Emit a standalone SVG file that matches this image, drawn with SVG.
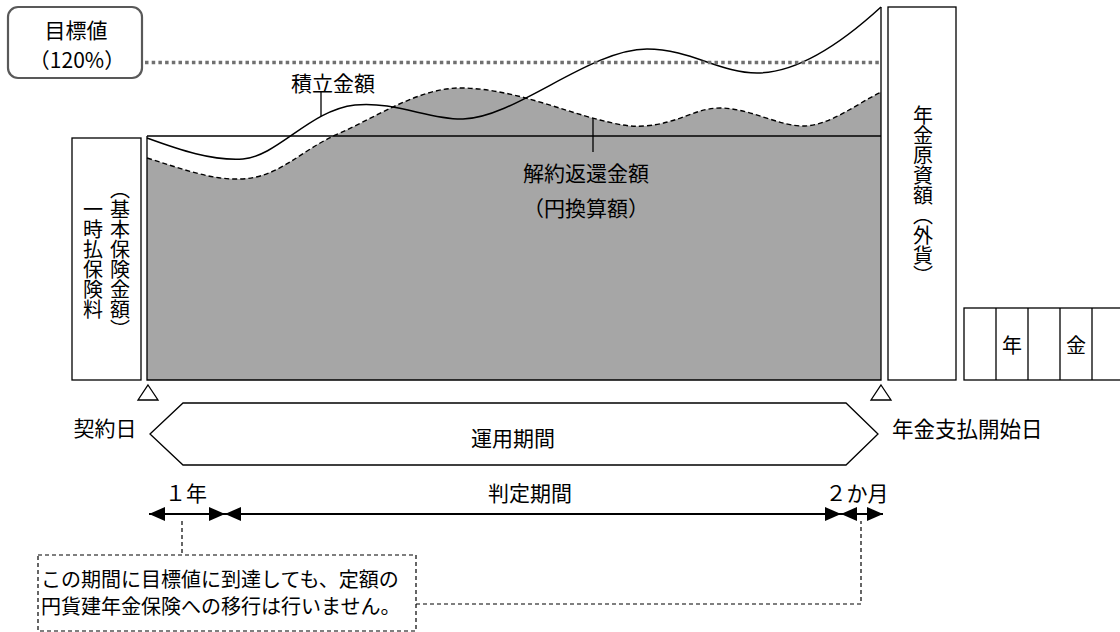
<svg xmlns="http://www.w3.org/2000/svg" width="1120" height="632" viewBox="0 0 1120 632">
<style>
.t{font-family:"Noto Sans CJK JP","Noto Sans",sans-serif;font-size:21px;fill:#000}
.s20{font-size:20px}
.c{text-anchor:middle;dominant-baseline:central}
.m{dominant-baseline:central}
.v{writing-mode:vertical-rl;text-orientation:mixed;text-anchor:middle}
.box{fill:#fff;stroke:#000;stroke-width:1.3}
.ln{fill:none;stroke:#000;stroke-width:1.3}
.dash{fill:none;stroke:#000;stroke-width:1.2;stroke-dasharray:4 3}
.arr{fill:none;stroke:#000;stroke-width:2;marker-start:url(#ah);marker-end:url(#ah)}
</style>
<defs>
<marker id="ah" viewBox="0 0 16 14" refX="16" refY="7" markerWidth="16" markerHeight="14" orient="auto-start-reverse" markerUnits="userSpaceOnUse">
<path d="M0,0 L16,7 L0,14 Z" fill="#000"/>
</marker>
</defs>
<rect width="1120" height="632" fill="#fff"/>

<g id="chart">
<path d="M147,158 C180,168 210,180 240,179 C280,178 300,150 340,133 C380,115 420,88 460,88 C510,88 560,110 600,120 C620,125 630,127 645,126 C680,123 695,108 720,108 C750,108 780,127 805,126 C830,125 855,105 881,92 L881,380 L147,380 Z" fill="#a6a6a6"/>
<line x1="147" y1="136" x2="881" y2="136" class="ln"/>
<path d="M147,158 C180,168 210,180 240,179 C280,178 300,150 340,133 C380,115 420,88 460,88 C510,88 560,110 600,120 C620,125 630,127 645,126 C680,123 695,108 720,108 C750,108 780,127 805,126 C830,125 855,105 881,92" fill="none" stroke="#000" stroke-width="1.4" stroke-dasharray="5 3"/>
<path d="M147,138 C180,150 212,161 243,159 C278,156 310,110 355,105 C395,101 430,120 463,119 C515,118 590,49 647,49 C690,49 720,73 757,73 C800,73 845,40 881,7" fill="none" stroke="#000" stroke-width="1.5"/>
<polyline points="147,136 147,380 881,380 881,7" class="ln" stroke-width="1.5"/>
<line x1="145" y1="62.5" x2="881" y2="62.5" stroke="#707070" stroke-width="3.5" stroke-dasharray="3.5 3.2"/>
</g>

<g id="target-box">
<rect x="8" y="7" width="134" height="71" rx="10" fill="#fff" stroke="#595959" stroke-width="2.2"/>
<text x="76" y="29" class="t c">目標値</text>
<text x="77" y="59" class="t c">（120%）</text>
</g>

<g id="label-accumulated">
<line x1="321" y1="92" x2="321" y2="116" class="ln"/>
<text x="333" y="82" class="t c">積立金額</text>
</g>

<g id="label-surrender">
<line x1="593" y1="118" x2="593" y2="152" class="ln"/>
<text x="586" y="172" class="t c">解約返還金額</text>
<text x="586" y="207" class="t c">（円換算額）</text>
</g>

<g id="lump-sum-box">
<rect x="72" y="138" width="69" height="242" class="box"/>
<text x="120" y="259" class="t v s20">（基本保険金額）</text>
<text x="93" y="259" class="t v s20">一時払保険料</text>
</g>

<g id="annuity-box">
<rect x="888" y="7" width="68" height="373" class="box"/>
<text x="923" y="195" class="t v s20">年金原資額（外貨）</text>
</g>

<g id="annuity-cells">
<rect x="964" y="308" width="170" height="72" class="box"/>
<line x1="996" y1="308" x2="996" y2="380" class="ln"/>
<line x1="1028" y1="308" x2="1028" y2="380" class="ln"/>
<line x1="1060" y1="308" x2="1060" y2="380" class="ln"/>
<line x1="1092" y1="308" x2="1092" y2="380" class="ln"/>
<text x="1012" y="344" class="t c s20">年</text>
<text x="1076" y="344" class="t c s20">金</text>
</g>

<g id="start-marker">
<polygon points="148,385 158,400 138,400" fill="none" stroke="#000" stroke-width="1.3"/>
<text x="105" y="427" class="t c">契約日</text>
</g>

<g id="end-marker">
<polygon points="881,385 891,400 871,400" fill="none" stroke="#000" stroke-width="1.3"/>
<text x="892" y="427" class="t m" style="font-size:21.5px">年金支払開始日</text>
</g>

<g id="operation-period">
<polygon points="150,434 183,403 846,403 878,434 846,465 183,465" fill="#fff" stroke="#000" stroke-width="1.3"/>
<text x="513" y="437" class="t c">運用期間</text>
</g>

<g id="period-labels">
<text x="186" y="492" class="t c">１年</text>
<text x="530" y="492" class="t c">判定期間</text>
<text x="857" y="492" class="t c">２か月</text>
</g>

<g id="connectors">
<line x1="149" y1="514" x2="225" y2="514" class="arr"/>
<line x1="225" y1="514" x2="841" y2="514" class="arr"/>
<line x1="841" y1="514" x2="883" y2="514" class="arr"/>
<polyline points="182,521 182,555" class="dash"/>
<polyline points="416,604 861,604 861,521" class="dash"/>
</g>

<g id="note-box">
<rect x="38" y="555" width="378" height="76" class="dash"/>
<text x="41" y="578" class="t m s20">この期間に目標値に到達しても、定額の</text>
<text x="41" y="605" class="t m s20">円貨建年金保険への移行は行いません。</text>
</g>
</svg>
